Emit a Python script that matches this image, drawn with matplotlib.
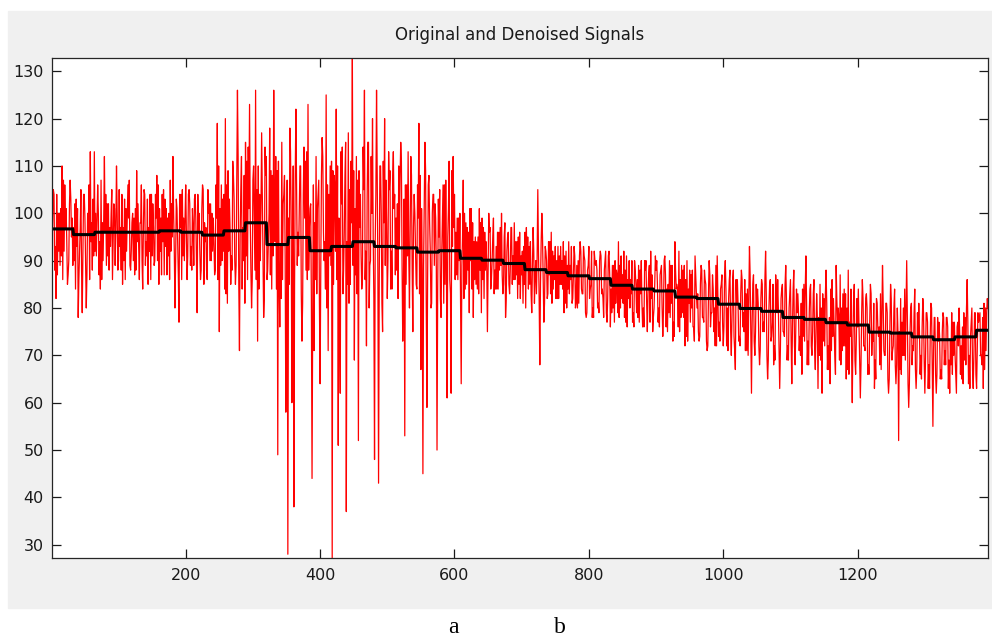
import matplotlib
matplotlib.use('Agg')
import matplotlib.pyplot as plt
import numpy as np
from matplotlib.patches import Rectangle

# Original (noisy) signal, split in three interleaved
# lists: orig_a holds samples 1, 4, 7, ...; orig_b 2, 5, 8, ...; orig_c 3, 6, 9, ...
# (each row of 10 values covers 30 samples)
orig_a = [
    93, 104, 82, 100, 89, 110, 92, 101, 87, 107,
    99, 90, 103, 78, 97, 79, 104, 80, 96, 113,
    88, 113, 91, 100, 84, 98, 112, 89, 102, 93,
    86, 101, 110, 90, 97, 85, 103, 92, 99, 88,
    100, 87, 109, 93, 98, 84, 104, 91, 97, 86,
    102, 90, 108, 85, 99, 94, 103, 87, 100, 92,
    112, 80, 101, 77, 104, 91, 99, 86, 105, 93,
    97, 104, 79, 100, 88, 105, 94, 86, 102, 90,
    99, 88, 119, 75, 106, 92, 120, 81, 103, 91,
    108, 85, 126, 71, 112, 90, 115, 86, 123, 80,
    110, 126, 73, 104, 117, 78, 108, 88, 118, 84,
    126, 112, 49, 76, 115, 104, 58, 28, 118, 60,
    38, 122, 96, 110, 73, 114, 88, 123, 101, 44,
    71, 112, 104, 64, 116, 90, 125, 71, 110, 27,
    108, 122, 51, 62, 114, 96, 37, 117, 85, 133,
    69, 112, 52, 104, 86, 126, 72, 115, 90, 120,
    48, 126, 43, 110, 75, 120, 98, 113, 84, 108,
    104, 88, 110, 115, 73, 53, 106, 91, 112, 75,
    100, 84, 119, 67, 45, 115, 59, 108, 80, 104,
    102, 50, 95, 78, 106, 85, 61, 111, 62, 112,
    86, 99, 90, 64, 107, 84, 97, 79, 101, 78,
    95, 84, 101, 79, 97, 88, 75, 96, 86, 99,
    84, 96, 88, 100, 85, 78, 95, 83, 97, 86,
    94, 82, 96, 87, 93, 80, 95, 85, 79, 92,
    90, 105, 68, 100, 77, 92, 83, 94, 81, 91,
    82, 93, 85, 90, 79, 92, 84, 89, 81, 93,
    81, 90, 94, 83, 91, 78, 89, 84, 78, 92,
    90, 81, 92, 84, 88, 79, 91, 76, 89, 77,
    88, 94, 80, 87, 78, 91, 82, 86, 77, 90,
    79, 89, 83, 76, 90, 81, 87, 92, 75, 85,
    90, 80, 88, 74, 91, 84, 79, 89, 73, 94,
    85, 92, 78, 88, 72, 90, 81, 87, 76, 91,
    80, 73, 89, 78, 86, 71, 90, 79, 84, 72,
    91, 77, 85, 72, 90, 80, 86, 70, 88, 67,
    86, 74, 88, 79, 71, 84, 93, 62, 87, 75,
    84, 68, 86, 77, 92, 65, 85, 74, 68, 87,
    86, 63, 84, 75, 89, 72, 83, 64, 88, 76,
    83, 74, 66, 85, 91, 73, 84, 70, 86, 75,
    63, 85, 62, 82, 88, 72, 64, 86, 76, 89,
    80, 87, 71, 84, 65, 88, 74, 60, 85, 73,
    84, 61, 86, 72, 83, 68, 85, 75, 63, 82,
    74, 83, 89, 70, 81, 62, 85, 71, 84, 68,
    52, 82, 70, 84, 90, 59, 80, 72, 84, 67,
    81, 70, 82, 62, 79, 68, 81, 55, 78, 66,
    77, 67, 79, 71, 78, 69, 68, 77, 70, 76,
    80, 72, 64, 78, 86, 70, 77, 63, 79, 71,
    78, 70, 63, 80, 82,
]
orig_b = [
    99, 88, 104, 92, 101, 86, 106, 94, 90, 103,
    89, 102, 93, 86, 105, 91, 99, 87, 106, 94,
    103, 92, 99, 87, 107, 90, 96, 102, 88, 100,
    94, 89, 100, 105, 88, 97, 86, 99, 107, 92,
    90, 101, 94, 86, 106, 97, 89, 103, 92, 104,
    97, 104, 90, 101, 87, 105, 93, 99, 86, 102,
    100, 90, 94, 104, 86, 99, 106, 91, 102, 88,
    89, 99, 104, 92, 101, 85, 97, 105, 90, 100,
    94, 106, 86, 101, 90, 104, 83, 109, 97, 88,
    103, 89, 112, 95, 84, 108, 91, 114, 99, 86,
    99, 86, 110, 90, 104, 82, 112, 94, 87, 108,
    104, 84, 111, 93, 86, 108, 80, 99, 113, 89,
    85, 106, 91, 110, 81, 99, 113, 88, 102, 79,
    98, 83, 107, 88, 112, 94, 80, 104, 89, 109,
    105, 86, 99, 113, 83, 108, 94, 81, 111, 89,
    101, 83, 109, 91, 114, 86, 103, 80, 112, 95,
    94, 108, 85, 100, 111, 89, 82, 105, 92, 113,
    87, 102, 93, 111, 84, 106, 91, 80, 108, 97,
    93, 106, 83, 101, 89, 109, 86, 98, 81, 104,
    99, 84, 105, 91, 81, 107, 95, 86, 109, 97,
    96, 86, 100, 89, 82, 98, 88, 101, 84, 94,
    85, 95, 88, 99, 82, 94, 87, 97, 90, 83,
    93, 84, 97, 87, 95, 82, 96, 88, 85, 98,
    87, 95, 82, 92, 85, 97, 84, 94, 89, 81,
    83, 92, 85, 95, 81, 90, 94, 83, 92, 86,
    90, 82, 93, 84, 91, 80, 94, 86, 82, 91,
    89, 81, 92, 83, 90, 79, 93, 85, 80, 90,
    88, 79, 91, 82, 90, 77, 92, 84, 80, 90,
    87, 78, 91, 81, 88, 76, 90, 83, 79, 88,
    86, 77, 90, 80, 88, 75, 89, 82, 78, 91,
    85, 76, 89, 79, 87, 75, 90, 81, 77, 88,
    84, 75, 89, 78, 86, 73, 88, 80, 76, 87,
    83, 74, 88, 77, 85, 72, 87, 79, 75, 89,
    82, 73, 87, 76, 84, 71, 88, 78, 74, 86,
    81, 72, 86, 75, 83, 70, 87, 77, 73, 85,
    81, 71, 85, 75, 83, 69, 86, 77, 72, 84,
    80, 71, 85, 74, 82, 69, 86, 76, 72, 84,
    79, 70, 84, 73, 81, 68, 85, 75, 71, 83,
    78, 69, 83, 72, 81, 67, 84, 74, 70, 82,
    78, 68, 83, 72, 80, 66, 84, 74, 69, 82,
    77, 68, 82, 71, 80, 66, 83, 73, 69, 81,
    76, 67, 81, 70, 79, 65, 82, 72, 68, 80,
    75, 66, 80, 69, 78, 64, 81, 71, 67, 79,
    75, 65, 79, 69, 77, 63, 80, 71, 66, 78,
    74, 65, 78, 68, 76, 62, 79, 70, 66, 77,
    74, 65, 79, 68, 77, 63, 80, 70, 66, 79,
    79, 68, 81, 71, 80,
]
orig_c = [
    105, 93, 87, 100, 91, 107, 97, 85, 102, 95,
    97, 84, 101, 92, 88, 104, 90, 100, 86, 98,
    91, 100, 106, 94, 86, 99, 104, 91, 97, 105,
    102, 97, 88, 93, 104, 90, 101, 106, 89, 98,
    99, 88, 102, 98, 90, 105, 94, 85, 104, 91,
    89, 99, 106, 92, 104, 87, 101, 91, 107, 95,
    92, 103, 87, 97, 105, 90, 96, 104, 89, 101,
    103, 90, 96, 86, 106, 98, 88, 100, 102, 92,
    87, 99, 110, 89, 103, 84, 106, 92, 85, 111,
    90, 109, 85, 105, 97, 81, 111, 101, 88, 107,
    88, 105, 84, 101, 93, 114, 86, 100, 109, 91,
    94, 109, 87, 82, 102, 91, 107, 85, 97, 110,
    108, 89, 100, 83, 104, 111, 86, 97, 82, 106,
    86, 101, 81, 108, 96, 84, 106, 91, 111, 85,
    92, 110, 82, 102, 88, 115, 85, 105, 98, 109,
    87, 107, 97, 84, 105, 92, 115, 89, 100, 82,
    104, 87, 110, 81, 98, 107, 90, 109, 84, 101,
    99, 82, 107, 89, 103, 85, 113, 95, 88, 104,
    85, 99, 108, 88, 103, 80, 106, 92, 100, 89,
    88, 103, 82, 98, 106, 89, 101, 83, 93, 104,
    87, 99, 82, 95, 100, 85, 96, 90, 98, 86,
    94, 83, 98, 86, 96, 89, 100, 84, 95, 88,
    84, 96, 89, 83, 98, 92, 85, 97, 91, 86,
    94, 85, 91, 81, 96, 88, 93, 83, 97, 87,
    91, 82, 94, 86, 93, 82, 87, 96, 84, 93,
    82, 91, 85, 94, 81, 89, 83, 93, 87, 80,
    80, 91, 84, 93, 79, 88, 82, 92, 78, 89,
    80, 90, 83, 78, 92, 82, 87, 79, 89, 81,
    79, 89, 82, 92, 77, 86, 80, 90, 76, 85,
    78, 88, 81, 76, 90, 83, 77, 87, 80, 88,
    77, 87, 80, 90, 76, 85, 78, 89, 74, 84,
    76, 86, 79, 89, 74, 84, 77, 88, 73, 83,
    75, 85, 78, 88, 73, 83, 76, 87, 80, 72,
    74, 84, 77, 87, 72, 82, 75, 86, 71, 81,
    73, 83, 76, 86, 71, 81, 74, 85, 70, 80,
    72, 82, 75, 86, 70, 80, 73, 85, 69, 79,
    72, 82, 75, 85, 69, 80, 73, 84, 68, 79,
    71, 81, 74, 84, 68, 79, 72, 83, 67, 78,
    70, 80, 73, 83, 67, 78, 71, 82, 66, 77,
    69, 80, 72, 83, 67, 77, 70, 82, 66, 76,
    69, 79, 72, 82, 66, 77, 70, 81, 65, 76,
    68, 78, 71, 81, 65, 76, 69, 80, 64, 75,
    67, 77, 70, 80, 64, 75, 68, 79, 63, 74,
    66, 76, 69, 79, 63, 74, 67, 78, 62, 73,
    65, 75, 68, 78, 63, 73, 66, 77, 62, 72,
    66, 76, 69, 80, 64, 74, 67, 79, 63, 77,
    70, 78, 67, 79,
]
n_samples = 1394

# Denoised signal: one level per block of 32 samples
block_len = 32
denoised = [96.7, 95.5, 96.0, 96.0, 96.0, 96.3, 96.0, 95.4, 96.3, 98.0,
            93.4, 94.9, 92.1, 93.0, 94.0, 93.0, 92.7, 91.8, 92.1, 90.5,
            90.1, 89.4, 88.1, 87.5, 86.8, 86.2, 84.8, 84.0, 83.6, 82.3,
            82.0, 80.8, 79.9, 79.3, 78.0, 77.6, 76.9, 76.4, 74.9, 74.7,
            73.9, 73.3, 73.9, 75.3]

x_ticks = [200, 400, 600, 800, 1000, 1200]
y_ticks = [30, 40, 50, 60, 70, 80, 90, 100, 110, 120, 130]

signal = np.empty(n_samples)
signal[0::3] = orig_a
signal[1::3] = orig_b
signal[2::3] = orig_c

fig = plt.figure(figsize=(9.92, 6.39), dpi=100)
fig.patch.set_facecolor('white')
# grey figure panel (MATLAB window)
fig.patches.append(Rectangle((8 / 992, 1 - 608 / 639), 984 / 992, 597 / 639,
                             transform=fig.transFigure, color='#f0f0f0', zorder=-10))

ax = fig.add_axes([52 / 992, 81 / 639, 936 / 992, 500 / 639])
ax.set_zorder(1)
ax.set_facecolor('white')

x = np.arange(1, n_samples + 1)
ax.plot(x, signal, color='#ff0000', linewidth=0.9)

y_den = np.repeat(denoised, block_len)[:n_samples]
ax.plot(x, y_den, color='black', linewidth=2.2)

ax.set_xlim(1, n_samples)
ax.set_ylim(27.2, 132.8)
ax.set_xticks(x_ticks)
ax.set_yticks(y_ticks)
ax.tick_params(direction='in', length=6.5, width=0.9, top=True, right=True,
               labelsize=11.5, colors='#1a1a1a')
ax.tick_params(axis='x', pad=7)
ax.tick_params(axis='y', pad=6)
for s in ax.spines.values():
    s.set_color('#262626')
    s.set_linewidth(0.9)

fig.text(520 / 992, 1 - 35 / 639, 'Original and Denoised Signals',
         ha='center', va='center', fontsize=12, color='#1a1a1a')

fig.text(453 / 992, 0.002, 'a', ha='center', va='bottom',
         fontsize=17, family='Liberation Serif')
fig.text(560 / 992, 0.002, 'b', ha='center', va='bottom',
         fontsize=17, family='Liberation Serif')

fig.savefig('out.png', dpi=100)
